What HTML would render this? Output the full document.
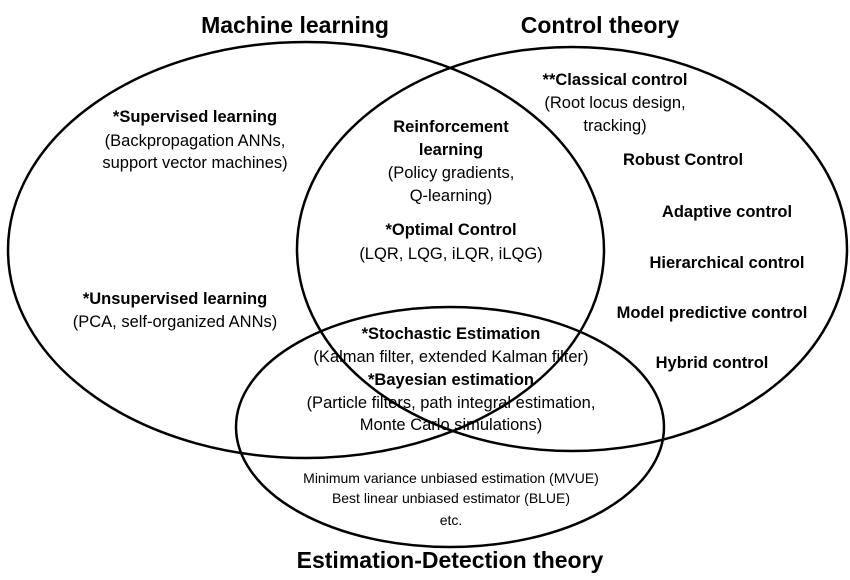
<!DOCTYPE html>
<html><head><meta charset="utf-8"><style>
html,body{margin:0;padding:0;background:#fff;}
svg{display:block;}
text{font-family:"Liberation Sans",Arial,sans-serif;fill:#000;text-anchor:middle;dominant-baseline:central;}
.t{font-size:23px;font-weight:bold;}
.b{font-size:16.5px;font-weight:bold;}
.n{font-size:16.5px;}
.s{font-size:14px;}
</style></head><body>
<svg width="850" height="580" viewBox="0 0 850 580">
<g fill="none" stroke="#000" stroke-width="2.5">
<ellipse cx="306" cy="250" rx="298" ry="208"/>
<ellipse cx="572" cy="249" rx="275" ry="202"/>
<ellipse cx="450" cy="427" rx="214" ry="120"/>
</g>
<text class="t" x="295" y="25">Machine learning</text>
<text class="t" x="600" y="25">Control theory</text>
<text class="t" x="450" y="560">Estimation-Detection theory</text>

<text class="b" x="195" y="117">*Supervised learning</text>
<text class="n" x="195" y="141">(Backpropagation ANNs,</text>
<text class="n" x="195" y="163">support vector machines)</text>

<text class="b" x="451" y="127">Reinforcement</text>
<text class="b" x="451" y="150">learning</text>
<text class="n" x="451" y="173">(Policy gradients,</text>
<text class="n" x="451" y="196">Q-learning)</text>
<text class="b" x="451" y="230">*Optimal Control</text>
<text class="n" x="451" y="254">(LQR, LQG, iLQR, iLQG)</text>

<text class="b" x="615" y="80">**Classical  control</text>
<text class="n" x="615" y="103">(Root locus design,</text>
<text class="n" x="615" y="126">tracking)</text>
<text class="b" x="683" y="160">Robust Control</text>
<text class="b" x="727" y="212">Adaptive control</text>
<text class="b" x="727" y="263">Hierarchical control</text>
<text class="b" x="712" y="313">Model predictive control</text>
<text class="b" x="712" y="363">Hybrid control</text>

<text class="b" x="175" y="299">*Unsupervised learning</text>
<text class="n" x="175" y="322">(PCA, self-organized ANNs)</text>

<text class="b" x="451" y="334">*Stochastic Estimation</text>
<text class="n" x="451" y="357">(Kalman filter, extended Kalman filter)</text>
<text class="b" x="451" y="380">*Bayesian estimation</text>
<text class="n" x="451" y="403">(Particle filters, path integral estimation,</text>
<text class="n" x="451" y="425">Monte Carlo simulations)</text>

<text class="s" x="451" y="478">Minimum variance unbiased estimation (MVUE)</text>
<text class="s" x="451" y="498">Best linear unbiased estimator (BLUE)</text>
<text class="s" x="451" y="520">etc.</text>
</svg>
</body></html>
